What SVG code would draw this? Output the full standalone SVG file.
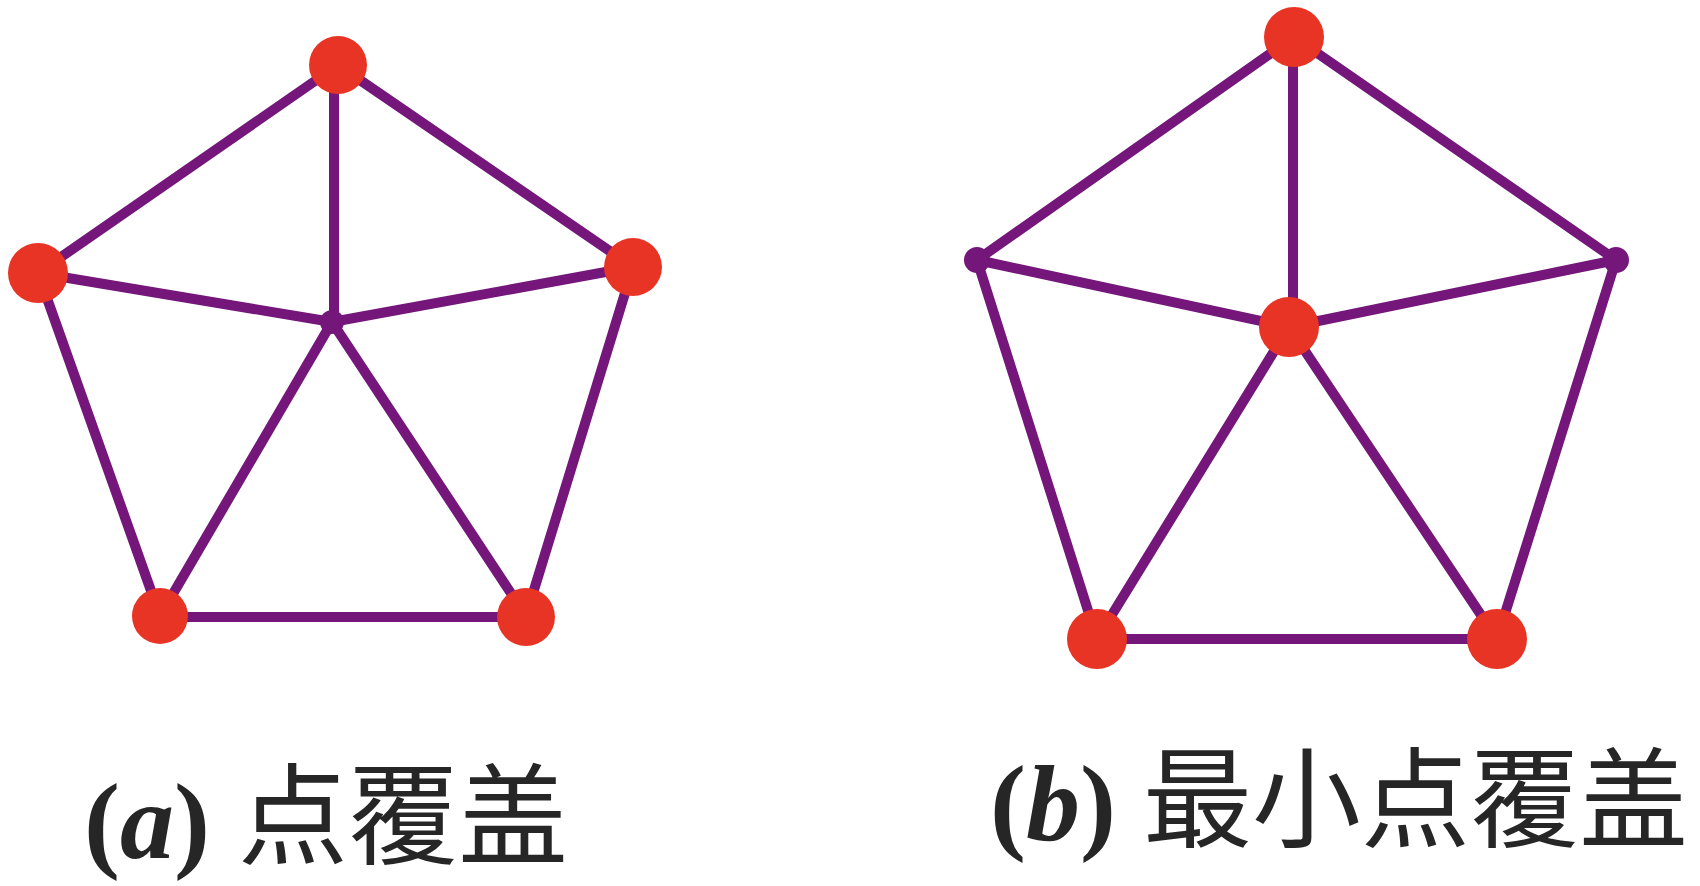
<svg xmlns="http://www.w3.org/2000/svg" width="1700" height="886" viewBox="0 0 1700 886">
<style>
.e{stroke:#74167A;stroke-width:10;stroke-linecap:round;fill:none}
.r{fill:#E83424}
.s{fill:#74167A}
.lat{font-family:"Liberation Serif","Times New Roman",serif;font-size:108px;font-weight:bold;fill:#262626}
.cjk{font-family:"Noto Sans CJK SC","Noto Sans CJK TC",sans-serif;fill:#262626}
</style>
<rect width="1700" height="886" fill="#fff"/>
<g id="connectors">
<g id="edges-a">
<line class="e" x1="338" y1="65" x2="38" y2="273"/>
<line class="e" x1="338" y1="65" x2="633" y2="267"/>
<line class="e" x1="334" y1="65" x2="334" y2="322"/>
<line class="e" x1="38" y1="273" x2="332" y2="322"/>
<line class="e" x1="633" y1="267" x2="332" y2="322"/>
<line class="e" x1="38" y1="273" x2="160" y2="616"/>
<line class="e" x1="633" y1="267" x2="526" y2="616"/>
<line class="e" x1="332" y1="322" x2="160" y2="616"/>
<line class="e" x1="332" y1="322" x2="526" y2="616"/>
<line class="e" x1="160" y1="617" x2="526" y2="617"/>
</g>
<g id="edges-b">
<line class="e" x1="1294" y1="37" x2="977" y2="260"/>
<line class="e" x1="1294" y1="37" x2="1616" y2="260"/>
<line class="e" x1="1293" y1="37" x2="1293" y2="327"/>
<line class="e" x1="977" y1="260" x2="1289" y2="327"/>
<line class="e" x1="1616" y1="260" x2="1289" y2="327"/>
<line class="e" x1="977" y1="260" x2="1097" y2="639"/>
<line class="e" x1="1616" y1="260" x2="1497" y2="639"/>
<line class="e" x1="1289" y1="327" x2="1097" y2="639"/>
<line class="e" x1="1289" y1="327" x2="1497" y2="639"/>
<line class="e" x1="1097" y1="639" x2="1497" y2="639"/>
</g>
</g>
<g id="a-top"><circle class="r" cx="338" cy="65" r="29"/></g>
<g id="a-left"><circle class="r" cx="38" cy="273" r="30"/></g>
<g id="a-right"><circle class="r" cx="633" cy="267" r="29"/></g>
<g id="a-center"><circle class="s" cx="332" cy="322" r="12"/></g>
<g id="a-bottomleft"><circle class="r" cx="160" cy="616" r="28"/></g>
<g id="a-bottomright"><circle class="r" cx="526" cy="617" r="29"/></g>
<g id="b-top"><circle class="r" cx="1294" cy="37" r="30"/></g>
<g id="b-left"><circle class="s" cx="977" cy="260" r="13"/></g>
<g id="b-right"><circle class="s" cx="1616" cy="260" r="13"/></g>
<g id="b-center"><circle class="r" cx="1289" cy="327" r="30"/></g>
<g id="b-bottomleft"><circle class="r" cx="1097" cy="639" r="30"/></g>
<g id="b-bottomright"><circle class="r" cx="1497" cy="639" r="30"/></g>
<g id="label-a">
<text class="lat" x="84" y="858">(<tspan font-style="italic">a</tspan>)</text>
<text class="cjk" x="238" y="856" font-size="110">点覆盖</text>
</g>
<g id="label-b">
<text class="lat" x="990" y="840">(<tspan font-style="italic">b</tspan>)</text>
<text class="cjk" x="1143" y="839" font-size="109">最小点覆盖</text>
</g>
</svg>
